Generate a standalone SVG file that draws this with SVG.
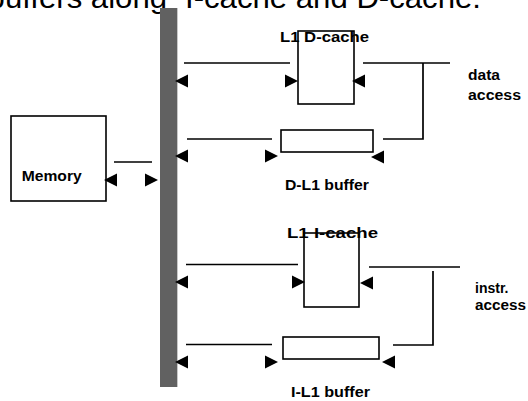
<svg xmlns="http://www.w3.org/2000/svg" xmlns:xlink="http://www.w3.org/1999/xlink" width="528" height="401" viewBox="0 0 528 401">
  <style>
    .box { fill: #ffffff; stroke: #000000; stroke-width: 1.6; }
    .wire { fill: none; stroke: #000000; stroke-width: 1.7; }
    .lbl { font-family: "Liberation Sans", Arial, sans-serif; font-weight: bold; font-size: 14px; fill: #000000; }
    .title { font-family: "Liberation Sans", Arial, sans-serif; font-size: 29px; fill: #000000; }
  </style>
  <defs>
    <!-- filled arrowheads, tip at the origin -->
    <path id="tipL" d="M0,0 L13,-6.5 L13,6.5 Z" fill="#000000"/>
    <path id="tipR" d="M0,0 L-13,-6.5 L-13,6.5 Z" fill="#000000"/>
  </defs>
  <rect width="528" height="401" fill="#ffffff"/>

  <!-- heading line, cut off at the top edge -->
  <text class="title" y="7.5"><tspan x="-12.4" textLength="179.4" lengthAdjust="spacingAndGlyphs">buffers along</tspan><tspan x="185" textLength="296" lengthAdjust="spacingAndGlyphs">I-cache and D-cache.</tspan></text>

  <!-- system bus -->
  <g id="bus">
    <rect x="160" y="8" width="17" height="379" fill="#616161"/>
    <line x1="177.5" y1="8" x2="177.5" y2="387" stroke="#c8c8c8" stroke-width="1"/>
  </g>

  <g id="memory">
    <rect class="box" x="11" y="116" width="95" height="85"/>
    <text class="lbl" x="21.7" y="181" textLength="60" lengthAdjust="spacingAndGlyphs">Memory</text>
  </g>

  <g id="l1-dcache">
    <rect class="box" x="298" y="31" width="56" height="73"/>
    <text class="lbl" x="280" y="41.5" textLength="89" lengthAdjust="spacingAndGlyphs">L1 D-cache</text>
  </g>

  <g id="dl1-buffer">
    <rect class="box" x="281" y="130" width="92" height="22"/>
    <text class="lbl" x="285" y="190" textLength="84" lengthAdjust="spacingAndGlyphs">D-L1 buffer</text>
  </g>

  <g id="l1-icache">
    <rect class="box" x="304" y="233" width="55" height="74"/>
    <text class="lbl" x="287" y="238" textLength="91" lengthAdjust="spacingAndGlyphs">L1 I-cache</text>
  </g>

  <g id="il1-buffer">
    <rect class="box" x="283" y="337" width="96" height="22"/>
    <text class="lbl" x="291" y="397" textLength="79" lengthAdjust="spacingAndGlyphs">I-L1 buffer</text>
  </g>

  <g id="data-access">
    <text class="lbl" x="468" y="80" textLength="32" lengthAdjust="spacingAndGlyphs">data</text>
    <text class="lbl" x="468" y="100" textLength="53" lengthAdjust="spacingAndGlyphs">access</text>
  </g>

  <g id="instr-access">
    <text class="lbl" x="475" y="293">instr.</text>
    <text class="lbl" x="475" y="310" textLength="51" lengthAdjust="spacingAndGlyphs">access</text>
  </g>

  <g id="connectors">
    <!-- memory to bus -->
    <line class="wire" x1="114" y1="162" x2="152" y2="162"/>
    <use xlink:href="#tipL" x="104" y="180"/>
    <use xlink:href="#tipR" x="158" y="180"/>

    <!-- bus to L1 D-cache -->
    <line class="wire" x1="184" y1="63" x2="290" y2="63"/>
    <use xlink:href="#tipL" x="175" y="81"/>
    <use xlink:href="#tipR" x="298" y="81"/>

    <!-- bus to D-L1 buffer -->
    <line class="wire" x1="187" y1="139" x2="272" y2="139"/>
    <use xlink:href="#tipL" x="175" y="156"/>
    <use xlink:href="#tipR" x="278" y="156"/>

    <!-- data access side -->
    <line class="wire" x1="363" y1="63" x2="450" y2="63"/>
    <path class="wire" d="M383,139 H423 V63"/>
    <use xlink:href="#tipL" x="352" y="81"/>
    <use xlink:href="#tipL" x="371" y="157"/>

    <!-- bus to L1 I-cache -->
    <line class="wire" x1="186" y1="264.5" x2="298" y2="264.5"/>
    <use xlink:href="#tipL" x="175" y="282"/>
    <use xlink:href="#tipR" x="305" y="282"/>

    <!-- bus to I-L1 buffer -->
    <line class="wire" x1="186" y1="344.5" x2="272" y2="344.5"/>
    <use xlink:href="#tipL" x="175" y="362"/>
    <use xlink:href="#tipR" x="278" y="362"/>

    <!-- instruction access side -->
    <line class="wire" x1="369" y1="267" x2="460" y2="267"/>
    <path class="wire" d="M393,345 H433 V271"/>
    <use xlink:href="#tipL" x="360" y="283"/>
    <use xlink:href="#tipL" x="382" y="362"/>
  </g>
</svg>
